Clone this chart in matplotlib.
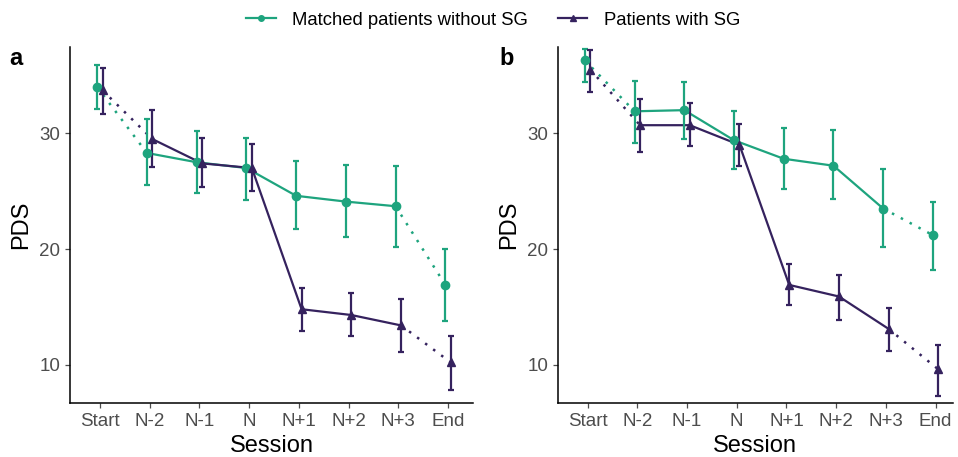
import numpy as np
import matplotlib
matplotlib.use("Agg")
import matplotlib.pyplot as plt
from matplotlib.lines import Line2D

plt.rcParams['font.family'] = ['Liberation Sans', 'DejaVu Sans']

sessions = ["Start", "N-2", "N-1", "N", "N+1", "N+2", "N+3", "End"]

# panel a
a_ctrl = [34.0, 28.3, 27.5, 27.0, 24.6, 24.1, 23.7, 16.9]
a_ctrl_hi = [35.9, 31.2, 30.2, 29.6, 27.6, 27.3, 27.2, 20.0]
a_ctrl_lo = [32.1, 25.5, 24.8, 24.2, 21.7, 21.0, 20.2, 13.8]
a_sg = [33.7, 29.5, 27.4, 27.0, 14.8, 14.3, 13.4, 10.2]
a_sg_hi = [35.6, 32.0, 29.6, 29.1, 16.6, 16.2, 15.7, 12.5]
a_sg_lo = [31.7, 27.1, 25.4, 25.0, 12.9, 12.5, 11.1, 7.85]

# panel b
b_ctrl = [36.3, 31.9, 32.0, 29.4, 27.8, 27.2, 23.5, 21.2]
b_ctrl_hi = [37.3, 34.5, 34.4, 31.9, 30.5, 30.3, 26.9, 24.1]
b_ctrl_lo = [34.4, 29.2, 29.5, 26.9, 25.2, 24.3, 20.2, 18.2]
b_sg = [35.5, 30.7, 30.7, 29.0, 16.9, 15.9, 13.1, 9.6]
b_sg_hi = [37.2, 33.0, 32.6, 30.8, 18.7, 17.8, 14.9, 11.7]
b_sg_lo = [33.6, 28.4, 28.9, 27.2, 15.2, 13.9, 11.2, 7.3]

green = "#1EA47E"
purple = "#35225E"
dodge = 0.055

fig = plt.figure(figsize=(9.58, 4.57), dpi=100)
ax_a = fig.add_axes([0.0731, 0.1182, 0.4206, 0.7788])
ax_b = fig.add_axes([0.5822, 0.1182, 0.4126, 0.7788])


def draw(ax, mean, hi, lo, color, marker, shift):
    x = np.arange(len(sessions)) + shift
    mean = np.array(mean)
    yerr = [mean - np.array(lo), np.array(hi) - mean]
    ax.errorbar(x, mean, yerr=yerr, fmt="none", ecolor=color, elinewidth=1.6,
                capsize=2.3, capthick=1.6, zorder=3)
    ax.plot(x[1:7], mean[1:7], color=color, lw=1.6, zorder=2)
    ax.plot(x[:2], mean[:2], color=color, lw=1.8, ls=(0, (1, 3)), zorder=2)
    ax.plot(x[6:], mean[6:], color=color, lw=1.8, ls=(0, (1, 3)), zorder=2)
    ax.plot(x, mean, ls="none", marker=marker, ms=6, color=color, zorder=4)


panels = [
    (ax_a, a_ctrl, a_ctrl_hi, a_ctrl_lo, a_sg, a_sg_hi, a_sg_lo, 7.5),
    (ax_b, b_ctrl, b_ctrl_hi, b_ctrl_lo, b_sg, b_sg_hi, b_sg_lo, 7.35),
]
for ax, c, ch, cl, s, sh, sl, xr in panels:
    draw(ax, c, ch, cl, green, "o", -dodge)
    draw(ax, s, sh, sl, purple, "^", dodge)
    ax.set_xlim(-0.6, xr)
    ax.set_ylim(6.7, 37.45)
    ax.set_xticks(range(len(sessions)))
    ax.set_xticklabels(sessions)
    ax.set_yticks([10, 20, 30])
    ax.tick_params(labelsize=13.5, colors="#4D4D4D", length=3.5, width=0.9)
    ax.tick_params(axis="x", pad=4)
    for side in ["top", "right"]:
        ax.spines[side].set_visible(False)
    for side in ["left", "bottom"]:
        ax.spines[side].set_linewidth(1.1)
    ax.set_xlabel("Session", fontsize=17, labelpad=3)
    ax.set_ylabel("PDS", fontsize=17, labelpad=5)

fig.text(0.010, 0.873, "a", fontsize=17, fontweight="bold", va="center")
fig.text(0.521, 0.873, "b", fontsize=17, fontweight="bold", va="center")

handles = [
    Line2D([], [], color=green, marker="o", ms=4, lw=1.6),
    Line2D([], [], color=purple, marker="^", ms=4, lw=1.6),
]
fig.legend(handles, ["Matched patients without SG", "Patients with SG"],
           loc="center", bbox_to_anchor=(0.515, 0.956), ncol=2, frameon=False,
           fontsize=13.3, handlelength=1.6, columnspacing=1.6, handletextpad=0.9)

fig.savefig("out.png", dpi=100)
